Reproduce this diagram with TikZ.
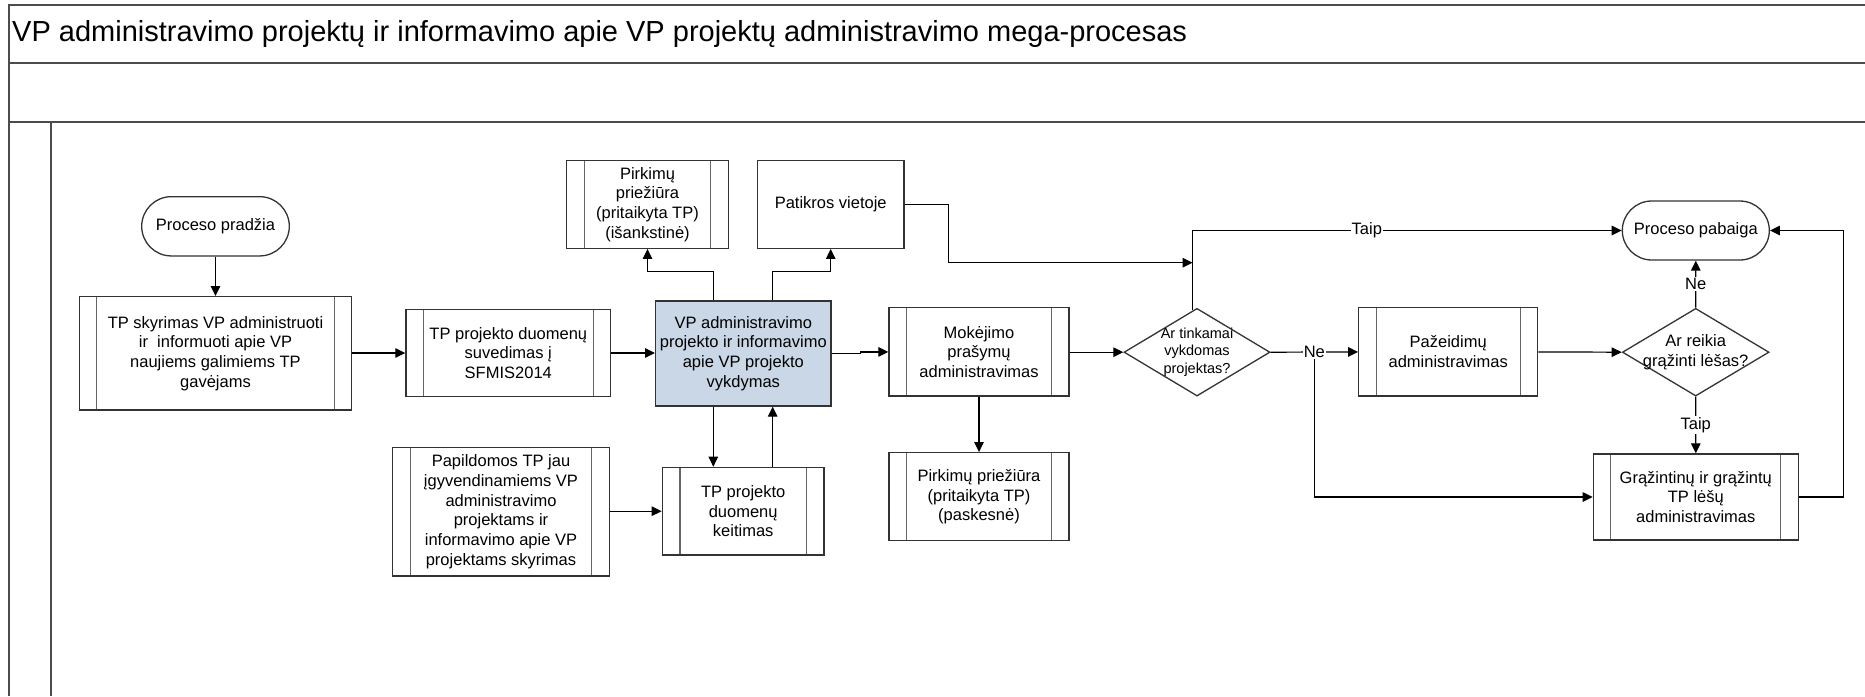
\documentclass[tikz,border=0pt]{standalone}
\usepackage{fontspec}
\setmainfont{Liberation Sans}
\usetikzlibrary{arrows.meta,shapes.geometric,shapes.misc,calc}

\tikzset{
  txt/.style={font=\fontsize{16.5}{19.7}\selectfont, align=center},
  box/.style={txt, draw=black!80, line width=1.3pt, rectangle, inner sep=0pt, fill=white},
  subproc/.style={box, path picture={
      \draw[line width=1.3pt, black!60]
        ([xshift=17.5pt]path picture bounding box.north west) --
        ([xshift=17.5pt]path picture bounding box.south west);
      \draw[line width=1.3pt, black!60]
        ([xshift=-17.5pt]path picture bounding box.north east) --
        ([xshift=-17.5pt]path picture bounding box.south east);}},
  term/.style={txt, rounded rectangle, draw=black!80, line width=1.3pt, inner sep=0pt, fill=white},
  decision/.style={diamond, draw=black!80, line width=1.3pt, inner sep=0pt, fill=white},
  conn/.style={line width=1.2pt, black, -{Triangle[length=10pt,width=9.5pt]}},
  link/.style={line width=1.2pt, black},
  lbl/.style={txt, fill=white, inner sep=1pt},
  frame/.style={line width=1.8pt, black!70},
}

\begin{document}
\begin{tikzpicture}[x=1pt,y=-1pt]
\useasboundingbox (0,0) rectangle (1865,696);

% pool frame, title row, empty header row and lane column
\draw[frame] (1865,5) -- (9,5) -- (9,696);
\draw[frame] (9,63) -- (1865,63);
\draw[frame] (9,122) -- (1865,122);
\draw[frame] (51,122) -- (51,696);
\node[anchor=west, font=\fontsize{29}{34}\selectfont, inner sep=0pt] (title) at (12,34)
  {VP administravimo projektų ir informavimo apie VP projektų administravimo mega-procesas};

% process steps
\node[term, minimum width=147.6pt, minimum height=59.3pt] (A) at (215.5,226.3) {Proceso pradžia};
\node[subproc, minimum width=272.4pt, minimum height=113.3pt] (B) at (215.5,353.3)
  {TP skyrimas VP administruoti\\ir~ informuoti apie VP\\naujiems galimiems TP\\gavėjams};
\node[subproc, minimum width=204.7pt, minimum height=87.4pt] (C) at (508.3,353)
  {TP projekto duomenų\\suvedimas į\\SFMIS2014};
\node[box, fill={rgb,255:red,202;green,215;blue,230}, minimum width=175.3pt, minimum height=105pt] (D) at (743.3,353.5)
  {VP administravimo\\projekto ir informavimo\\apie VP projekto\\vykdymas};
\node[subproc, minimum width=161.6pt, minimum height=87.6pt] (E) at (647.5,204.5)
  {Pirkimų\\priežiūra\\(pritaikyta TP)\\(išankstinė)};
\node[box, minimum width=146.7pt, minimum height=87.6pt] (F) at (830.7,204.5) {Patikros vietoje};
\node[subproc, minimum width=180pt, minimum height=88.3pt] (G) at (979,351.9)
  {Mokėjimo\\prašymų\\administravimas};
\node[subproc, minimum width=180pt, minimum height=88pt] (H) at (979,496.7)
  {Pirkimų priežiūra\\(pritaikyta TP)\\(paskesnė)};
\node[subproc, minimum width=216.6pt, minimum height=128.7pt] (I) at (501,511.7)
  {Papildomos TP jau\\įgyvendinamiems VP\\administravimo\\projektams ir\\informavimo apie VP\\projektams skyrimas};
\node[subproc, minimum width=161.7pt, minimum height=87.7pt] (J) at (743.2,511.2)
  {TP projekto\\duomenų\\keitimas};
\node[decision, minimum width=146pt, minimum height=87.7pt] (K) at (1197,352.2) {};
\node[txt, font=\fontsize{14.5}{17.3}\selectfont] (Ktext) at (1197,352.2)
  {Ar tinkamai\\vykdomas\\projektas?};
\node[subproc, minimum width=179pt, minimum height=88.3pt] (L) at (1448.2,351.9)
  {Pažeidimų\\administravimas};
\node[decision, minimum width=146.7pt, minimum height=87.7pt] (M) at (1695.7,352.2) {};
\node[txt] (Mtext) at (1695.7,352.2) {Ar reikia\\grąžinti lėšas?};
\node[term, minimum width=147pt, minimum height=59pt] (N) at (1695.8,230.5) {Proceso pabaiga};
\node[subproc, minimum width=205pt, minimum height=86pt] (O) at (1695.8,497)
  {Grąžintinų ir grąžintų\\TP lėšų\\administravimas};

% helper points of the connectors
\coordinate (kup) at ($(K.north)!0.06!(K.west)$);
\coordinate (fj) at (948.3,262.7);
\coordinate (kj) at (kup |- fj);
\coordinate (ne) at ($(K.east)!0.5!(L.west)$);

% flows
\draw[conn] (A.south) -- (B.north);
\draw[conn] (B.east |- C.west) -- (C.west);
\draw[conn] (C.east) -- (D.west |- C.east);
\draw[conn] (D.east) -- ++(29,0) |- (G.west);
\draw[conn] ([xshift=-30pt]D.north) -- ++(0,-28.7) -| (E.south);
\draw[conn] ([xshift=29pt]D.north) -- ++(0,-28.7) -| (F.south);
\draw[conn] ([xshift=-30pt]D.south) -- ([xshift=-30pt]D.south |- J.north);
\draw[conn] ([xshift=29.4pt]D.south |- J.north) -- ([xshift=29.4pt]D.south);
\draw[conn] (I.east |- J.west) -- (J.west);
\draw[conn] (G.south) -- (H.north);
\draw[conn] (G.east |- K.west) -- (K.west);
\draw[conn] (F.east) -| (fj) -- (kj);
\draw[conn] (kup) |- (N.west) node[lbl, pos=0.703] (taip1) {Taip};
\draw[conn] (ne) |- (O.west);
\draw[conn] (K.east) -- (L.west) node[lbl, pos=0.5] (ne1) {Ne};
\draw[conn] (L.east) -- (M.west);
\draw[conn] (M.north) -- (N.south) node[lbl, midway] (ne2) {Ne};
\draw[conn] (M.south) -- (O.north) node[lbl, midway] (taip2) {Taip};
\draw[conn] (O.east) -- ++(44.4,0) |- (N.east);
\end{tikzpicture}
\end{document}
